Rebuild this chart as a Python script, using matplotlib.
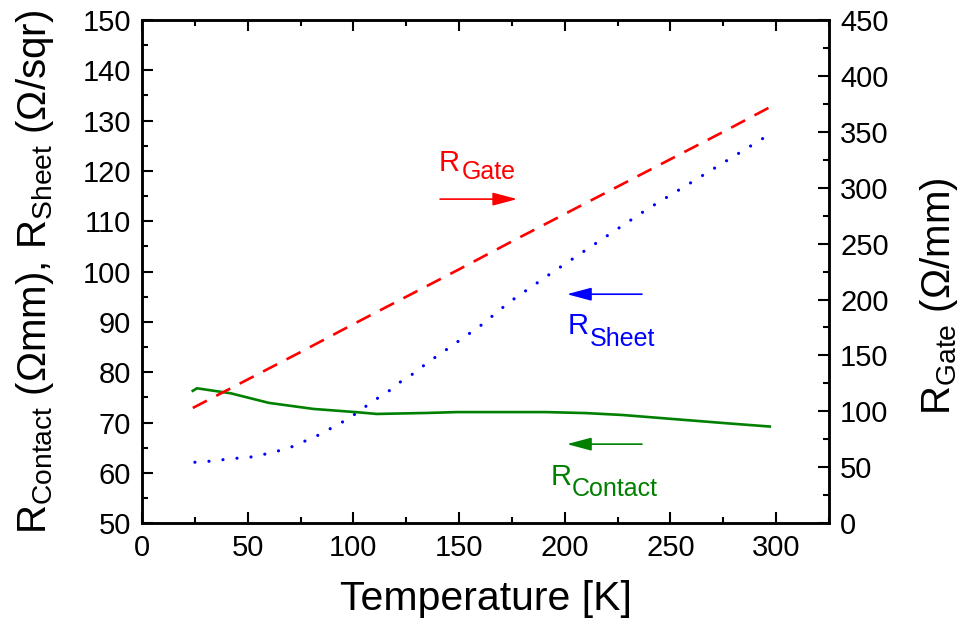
import numpy as np
import matplotlib
matplotlib.use("Agg")
import matplotlib.pyplot as plt
from matplotlib.ticker import MultipleLocator

plt.rcParams['font.family'] = ['Liberation Sans', 'DejaVu Sans']
plt.rcParams['mathtext.fontset'] = 'custom'
plt.rcParams['mathtext.rm'] = 'Liberation Sans'
plt.rcParams['mathtext.it'] = 'Liberation Sans'

# data
t_gate = [24, 50, 75, 100, 125, 150, 175, 200, 225, 250, 275, 297]
r_gate = [103, 128.5, 153, 178, 202.5, 227, 252, 276.5, 301, 325.5, 350, 372]  # Ohm/mm (right axis)

t_sheet = [25, 32, 38, 45, 51, 58, 64, 71, 77, 84, 90, 97, 103, 109, 116, 122, 129, 135,
           142, 160, 174, 194, 220, 239, 259, 297]
r_sheet = [62.1, 62.3, 62.6, 62.9, 63.1, 63.7, 64.3, 65.2, 66.3, 67.6, 69.0, 70.6, 72.3,
           74.2, 76.0, 78.0, 79.9, 81.9, 83.9, 89.2, 94.0, 99.8, 107.1, 112.4, 117.5, 127.3]

t_contact = [24, 26, 42, 60, 81, 103, 111, 135, 149, 191, 210, 227, 254, 278, 297]
r_contact = [76.3, 76.8, 75.8, 73.9, 72.7, 72.0, 71.7, 71.9, 72.07, 72.07, 71.87, 71.5, 70.6, 69.8, 69.2]

fig = plt.figure(figsize=(9.73, 6.25), dpi=100)
ax = fig.add_axes([0.146, 0.163, 0.706, 0.805])
ax2 = ax.twinx()

ax.plot(t_sheet, r_sheet, color='#0000ff', lw=2.3, linestyle=(0, (0.01, 4.4)),
        dash_capstyle='round')
ax.plot(t_contact, r_contact, color='#008000', lw=1.9)
ax2.plot(t_gate, r_gate, color='#ff0000', lw=1.9, dashes=(6, 4))

ax.set_xlim(0, 325)
ax.set_ylim(50, 150)
ax2.set_ylim(0, 450)

ax.xaxis.set_major_locator(MultipleLocator(50))
ax.xaxis.set_minor_locator(MultipleLocator(25))
ax.yaxis.set_major_locator(MultipleLocator(10))
ax.yaxis.set_minor_locator(MultipleLocator(5))
ax2.yaxis.set_major_locator(MultipleLocator(50))
ax2.yaxis.set_minor_locator(MultipleLocator(25))

ax.tick_params(which='both', direction='in', top=True, right=False, width=1.5, labelsize=21, pad=8)
ax.tick_params(which='major', length=8)
ax.tick_params(which='minor', length=4)
ax2.tick_params(which='both', direction='in', width=1.5, labelsize=21, pad=8)
ax2.tick_params(which='major', length=8)
ax2.tick_params(which='minor', length=4)
for a in (ax, ax2):
    for s in a.spines.values():
        s.set_linewidth(1.8)

ax.set_xlabel('Temperature [K]', fontsize=29.5, labelpad=13)
ax.set_ylabel(r'R$_{\rm Contact}$ (Ωmm), R$_{\rm Sheet}$ (Ω/sqr)', fontsize=29)
ax2.set_ylabel(r'R$_{\rm Gate}$ (Ω/mm)', fontsize=29)
ax.yaxis.set_label_coords(-0.125, 0.5)
ax2.yaxis.set_label_coords(1.13, 0.451)

# annotations with arrows
arrow = '-|>,head_length=1.5,head_width=0.4'
ax.annotate('', xy=(177.5, 114.4), xytext=(141, 114.4),
            arrowprops=dict(arrowstyle=arrow, color='#ff0000', lw=1.2, shrinkA=0, shrinkB=0))
ax.annotate('', xy=(201, 95.5), xytext=(236.5, 95.5),
            arrowprops=dict(arrowstyle=arrow, color='#0000ff', lw=1.2, shrinkA=0, shrinkB=0))
ax.annotate('', xy=(201, 65.7), xytext=(236.5, 65.7),
            arrowprops=dict(arrowstyle=arrow, color='#008000', lw=1.2, shrinkA=0, shrinkB=0))

labels = [('Gate', '#ff0000', 140.5, 120.05, 151.3, 118.4),
          ('Sheet', '#0000ff', 201.5, 87.6, 212.0, 85.2),
          ('Contact', '#008000', 193.5, 57.6, 203.3, 55.4)]
for sub, col, xr, yr, xs, ys in labels:
    ax.text(xr, yr, 'R', color=col, fontsize=21, ha='left', va='baseline')
    ax.text(xs, ys, sub, color=col, fontsize=18, ha='left', va='baseline')

fig.savefig('out.png', dpi=100)
